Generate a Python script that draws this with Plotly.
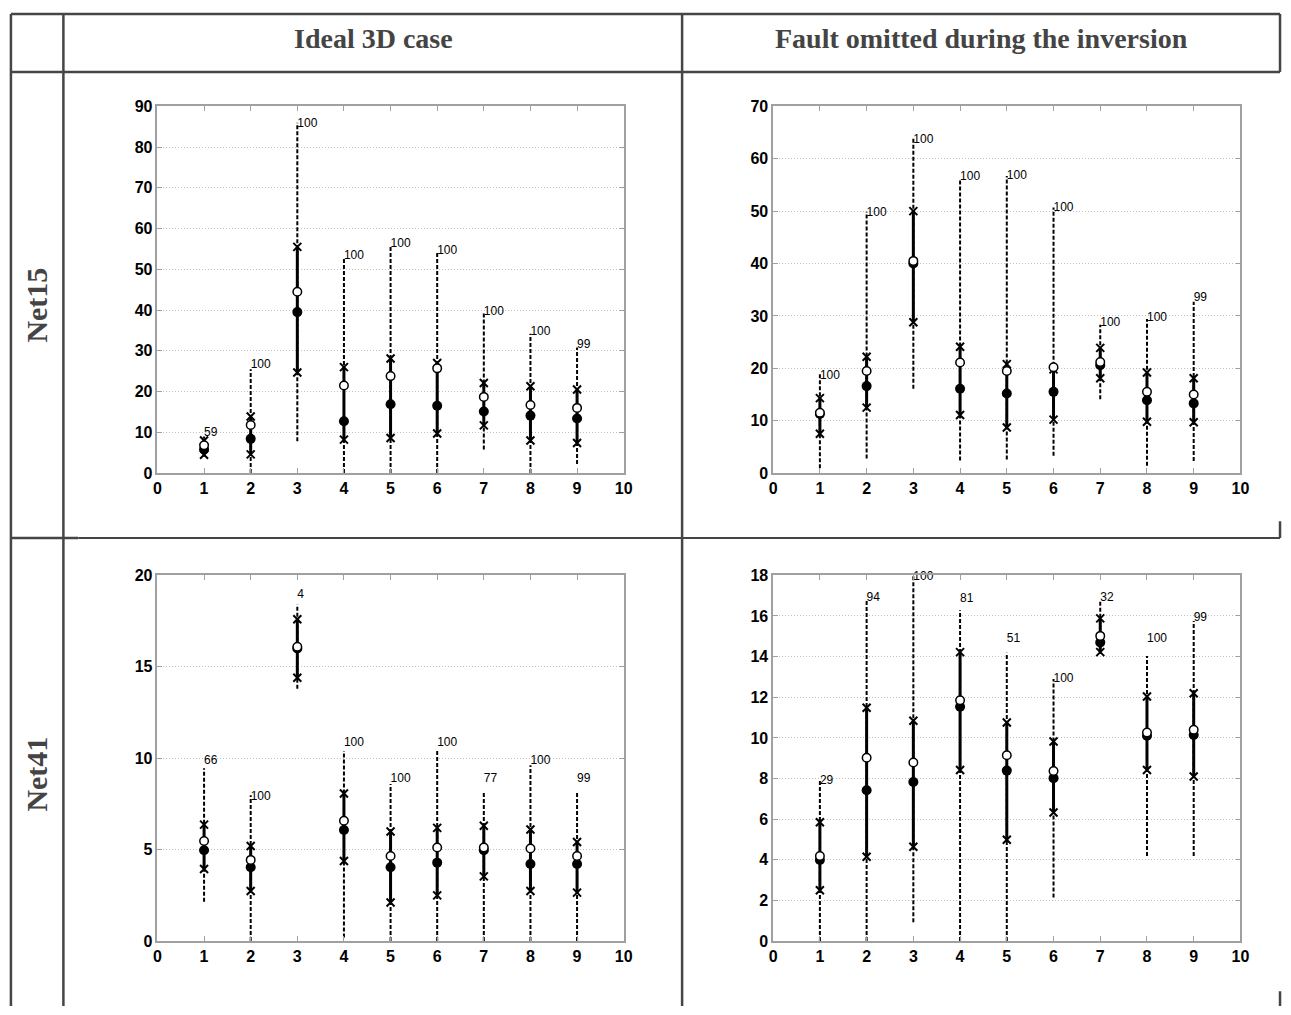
import plotly.graph_objects as go
from plotly.subplots import make_subplots

W, H = 1291, 1015

items = [1, 2, 3, 4, 5, 6, 7, 8, 9]

# Net15 - ideal 3D case
n15_ideal_lo = [4.0, 0.0, 7.8, 0.0, 0.0, 0.0, 5.8, 0.0, 2.2]
n15_ideal_hi = [9.0, 25.5, 86.0, 53.0, 56.0, 54.3, 39.6, 34.2, 30.8]
n15_ideal_xlo = [4.5, 4.6, 24.7, 8.2, 8.6, 9.7, 11.7, 8.0, 7.4]
n15_ideal_xhi = [8.0, 13.9, 55.5, 26.0, 28.1, 27.0, 22.1, 21.3, 20.5]
n15_ideal_filled = [5.8, 8.4, 39.5, 12.7, 16.9, 16.5, 15.1, 14.1, 13.4]
n15_ideal_open = [6.8, 11.8, 44.5, 21.5, 23.8, 25.7, 18.7, 16.7, 16.0]
n15_ideal_pct = ["59", "100", "100", "100", "100", "100", "100", "100", "99"]
n15_ideal_pct_y = [9.8, 26.6, 85.6, 53.3, 56.3, 54.5, 39.6, 34.5, 31.4]

# Net15 - fault omitted
n15_fault_lo = [0.9, 2.8, 16.1, 2.4, 2.6, 3.3, 14.1, 1.4, 2.3]
n15_fault_hi = [19.1, 49.9, 64.0, 56.2, 56.7, 50.7, 28.3, 29.4, 32.7]
n15_fault_xlo = [7.5, 12.5, 28.8, 11.1, 8.7, 10.2, 18.1, 9.8, 9.7]
n15_fault_xhi = [14.3, 22.2, 50.0, 24.1, 20.8, 19.8, 23.9, 19.2, 18.1]
n15_fault_filled = [11.3, 16.6, 40.0, 16.1, 15.2, 15.5, 20.6, 13.9, 13.3]
n15_fault_open = [11.5, 19.5, 40.5, 21.1, 19.5, 20.2, 21.2, 15.5, 15.0]
n15_fault_pct = ["100", "100", "100", "100", "100", "100", "100", "100", "99"]
n15_fault_pct_y = [18.6, 49.6, 63.6, 56.5, 56.7, 50.6, 28.6, 29.6, 33.5]

# Net41 - ideal 3D case
n41_ideal_lo = [2.15, 0.0, 13.8, 0.2, 0.0, 0.0, 0.0, 0.0, 0.0]
n41_ideal_hi = [9.45, 7.98, 18.4, 10.4, 8.59, 10.43, 8.16, 9.62, 8.16]
n41_ideal_xlo = [3.94, 2.74, 14.4, 4.38, 2.11, 2.5, 3.54, 2.74, 2.65]
n41_ideal_xhi = [6.37, 5.2, 17.6, 8.07, 5.99, 6.19, 6.31, 6.1, 5.42]
n41_ideal_filled = [4.97, 4.04, 16.0, 6.08, 4.04, 4.29, 4.97, 4.22, 4.22]
n41_ideal_open = [5.47, 4.44, 16.1, 6.58, 4.65, 5.12, 5.12, 5.06, 4.65]
n41_ideal_pct = ["66", "100", "4", "100", "100", "100", "77", "100", "99"]
n41_ideal_pct_y = [9.84, 7.9, 18.9, 10.84, 8.87, 10.84, 8.87, 9.84, 8.87]

# Net41 - fault omitted
n41_fault_lo = [0.0, 0.0, 0.93, 0.0, 0.0, 2.14, 14.14, 4.19, 4.19]
n41_fault_hi = [7.89, 16.8, 18.0, 16.28, 14.19, 12.9, 16.75, 14.03, 15.75]
n41_fault_xlo = [2.5, 4.15, 4.64, 8.42, 4.99, 6.33, 14.22, 8.42, 8.1]
n41_fault_xhi = [5.85, 11.48, 10.84, 14.22, 10.76, 9.82, 15.88, 12.04, 12.2]
n41_fault_filled = [3.99, 7.42, 7.83, 11.53, 8.39, 8.02, 14.7, 10.11, 10.14]
n41_fault_open = [4.19, 9.02, 8.79, 11.85, 9.15, 8.37, 15.02, 10.27, 10.4]
n41_fault_pct = ["29", "94", "100", "81", "51", "100", "32", "100", "99"]
n41_fault_pct_y = [7.86, 16.88, 17.9, 16.84, 14.86, 12.88, 16.9, 14.86, 15.88]

col_titles = ["Ideal 3D case", "Fault omitted during the inversion"]
row_titles = ["Net15", "Net41"]

panels = [
    (1, 1, n15_ideal_lo, n15_ideal_hi, n15_ideal_xlo, n15_ideal_xhi, n15_ideal_filled, n15_ideal_open, n15_ideal_pct, n15_ideal_pct_y, 90, 10),
    (1, 2, n15_fault_lo, n15_fault_hi, n15_fault_xlo, n15_fault_xhi, n15_fault_filled, n15_fault_open, n15_fault_pct, n15_fault_pct_y, 70, 10),
    (2, 1, n41_ideal_lo, n41_ideal_hi, n41_ideal_xlo, n41_ideal_xhi, n41_ideal_filled, n41_ideal_open, n41_ideal_pct, n41_ideal_pct_y, 20, 5),
    (2, 2, n41_fault_lo, n41_fault_hi, n41_fault_xlo, n41_fault_xhi, n41_fault_filled, n41_fault_open, n41_fault_pct, n41_fault_pct_y, 18, 2),
]


def segs(xs, lo, hi):
    px, py = [], []
    for x, a, b in zip(xs, lo, hi):
        px += [x, x, None]
        py += [a, b, None]
    return px, py


fig = make_subplots(rows=2, cols=2)

for r, c, lo, hi, xlo, xhi, filled, opn, pct, pct_y, ymax, dy in panels:
    dx, dyy = segs(items, lo, hi)
    fig.add_trace(go.Scatter(x=dx, y=dyy, mode="lines",
                             line=dict(color="black", width=2, dash="4px,2px")), row=r, col=c)
    sx, sy = segs(items, xlo, xhi)
    fig.add_trace(go.Scatter(x=sx, y=sy, mode="lines",
                             line=dict(color="black", width=3)), row=r, col=c)
    fig.add_trace(go.Scatter(x=items + items, y=xlo + xhi, mode="markers",
                             marker=dict(symbol="x-thin", size=8, line=dict(color="black", width=2))),
                  row=r, col=c)
    fig.add_trace(go.Scatter(x=items, y=filled, mode="markers",
                             marker=dict(symbol="circle", size=10, color="black")), row=r, col=c)
    fig.add_trace(go.Scatter(x=items, y=opn, mode="markers",
                             marker=dict(symbol="circle", size=8.5, color="white",
                                         line=dict(color="black", width=1.5))), row=r, col=c)
    fig.add_trace(go.Scatter(x=items, y=pct_y, mode="text", text=pct, textposition="middle right",
                             textfont=dict(family="Liberation Sans, Arial", size=12, color="black"),
                             cliponaxis=False), row=r, col=c)
    fig.update_yaxes(range=[0, ymax], dtick=dy, row=r, col=c)

# axes positions (pixels -> paper)
xdom = [[155 / W, 626 / W], [777 / W, 1249 / W]]
ydom = [[1 - 473 / H, 1 - 100 / H], [1 - 949 / H, 1 - 577 / H]]
for r in (1, 2):
    for c in (1, 2):
        fig.update_xaxes(domain=xdom[c - 1], row=r, col=c)
        fig.update_yaxes(domain=ydom[r - 1], row=r, col=c)

tickfont = dict(family="Liberation Sans, Arial", size=16, color="black", weight="bold")
fig.update_xaxes(range=[0, 10], dtick=1, showgrid=False, zeroline=False,
                 showline=True, linecolor="#a0a0a0", linewidth=1.5, mirror="ticks",
                 ticks="inside", ticklen=5, tickcolor="#a0a0a0", tickfont=tickfont)
fig.update_yaxes(showgrid=True, gridcolor="#c0c0c0", griddash="1px,2px", gridwidth=1, zeroline=False,
                 showline=True, linecolor="#a0a0a0", linewidth=1.5, mirror="ticks",
                 ticks="inside", ticklen=5, tickcolor="#a0a0a0", tickfont=tickfont)

# table frame
tc = "#454545"


def hline(x0, x1, y, w=2.5):
    fig.add_shape(type="line", xref="paper", yref="paper", x0=x0 / W, x1=x1 / W,
                  y0=1 - y / H, y1=1 - y / H, line=dict(color=tc, width=w))


def vline(x, y0, y1, w=2.5):
    fig.add_shape(type="line", xref="paper", yref="paper", x0=x / W, x1=x / W,
                  y0=1 - y0 / H, y1=1 - y1 / H, line=dict(color=tc, width=w))


hline(7, 1289, 6)
hline(7, 1289, 65)
hline(7, 75, 539)
hline(75, 1289, 539, 2)
vline(7, 6, 1015)
vline(60, 6, 1015)
vline(685, 6, 1015)
vline(1289, 6, 65)
vline(1289, 522, 539)
vline(1289, 1000, 1015)

hfont = dict(family="Liberation Serif, Times New Roman", size=28, color="#444444", weight="bold")
fig.add_annotation(text=col_titles[0], x=373 / W, y=1 - 31 / H, xref="paper", yref="paper",
                   xanchor="center", yanchor="middle", showarrow=False, font=hfont)
fig.add_annotation(text=col_titles[1], x=987 / W, y=1 - 31 / H, xref="paper", yref="paper",
                   xanchor="center", yanchor="middle", showarrow=False, font=hfont)
fig.add_annotation(text=row_titles[0], x=33 / W, y=1 - 302 / H, xref="paper", yref="paper",
                   xanchor="center", yanchor="middle", showarrow=False, textangle=-90,
                   font=dict(hfont, size=30))
fig.add_annotation(text=row_titles[1], x=33 / W, y=1 - 779 / H, xref="paper", yref="paper",
                   xanchor="center", yanchor="middle", showarrow=False, textangle=-90,
                   font=dict(hfont, size=30))

fig.update_layout(width=W, height=H, margin=dict(l=0, r=0, t=0, b=0),
                  paper_bgcolor="white", plot_bgcolor="white", showlegend=False)

fig.write_html("out.html", config={"displayModeBar": False},
               post_script="document.documentElement.style.overflow='hidden';"
                           "document.body.style.margin='0px';"
                           "document.body.style.overflow='hidden';")
